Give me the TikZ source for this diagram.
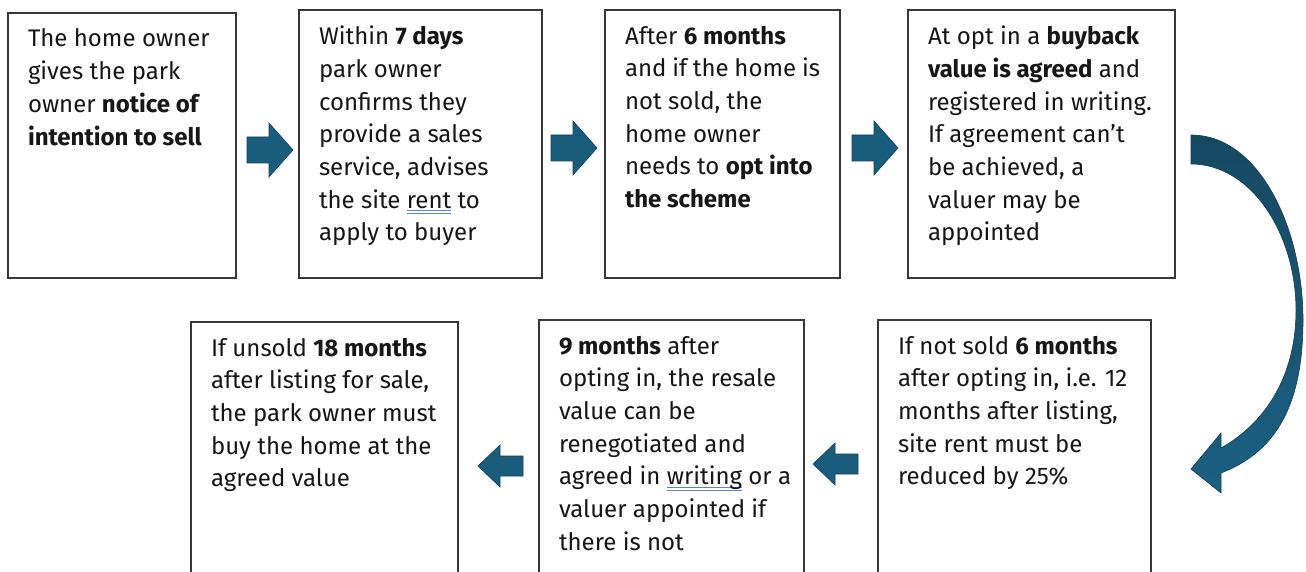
\documentclass[tikz,border=0pt]{standalone}
\usepackage{fontspec}
\setmainfont{Fira Sans}
\usetikzlibrary{calc}
\definecolor{arrowblue}{RGB}{26,92,124}
\definecolor{arrowtop}{RGB}{22,72,98}
\definecolor{arrowbot}{RGB}{27,96,130}
\definecolor{arrowedge}{RGB}{18,64,88}
\definecolor{boxline}{RGB}{55,55,55}
\definecolor{ulblue}{RGB}{90,130,220}
\definecolor{txt}{RGB}{22,22,22}
\newcommand\dblul[1]{\setbox0\hbox{#1}\rlap{\color{ulblue}\rule[-3pt]{\wd0}{0.9pt}}\rlap{\color{ulblue}\rule[-5.5pt]{\wd0}{0.9pt}}\box0\relax}
\newcommand\stepbody[3]{\begin{minipage}[t][#2][t]{#1}\raggedright\hfuzz=30pt\rule{0pt}{18pt}#3\end{minipage}}
\tikzset{
  stepbox/.style={draw=boxline, line width=1.2pt, anchor=north west, inner xsep=20pt, inner ysep=16pt, outer sep=0pt,
    text=txt, font=\fontsize{24}{32.7}\selectfont},
  blockarrow/.style={fill=arrowblue, draw=arrowedge, line width=0.6pt, line join=miter},
  rarr/.pic={\path[blockarrow] (-23,-13) -- (-1,-13) -- (-1,-27) -- (23,0) -- (-1,27) -- (-1,13) -- (-23,13) -- cycle;},
  larr/.pic={\path[blockarrow] (23,-10) -- (0,-10) -- (0,-21) -- (-22,0) -- (0,21) -- (0,10) -- (23,10) -- cycle;}
}
\begin{document}
\begin{tikzpicture}[x=1pt,y=-1pt]
\useasboundingbox (0,0) rectangle (1306,572);
\clip (0,0) rectangle (1306,572);
\fill[white] (0,0) rectangle (1306,572);

% top row
\node[stepbox] (b1) at (8,13) {\stepbody{188pt}{233pt}{The home owner\\
gives the park\\
owner \textbf{notice of}\\
\textbf{intention to sell}}};

\node[stepbox] (b2) at (299,10) {\stepbody{203pt}{236pt}{Within \textbf{7 days}\\
park owner\\
confirms they\\
provide a sales\\
service, advises\\
the site \dblul{rent} to\\
apply to buyer}};

\node[stepbox] (b3) at (605,10) {\stepbody{195pt}{236pt}{After \textbf{6 months}\\
and if the home is\\
not sold, the\\
home owner\\
needs to \textbf{opt into}\\
\textbf{the scheme}}};

\node[stepbox] (b4) at (908,10) {\stepbody{227pt}{236pt}{At opt in a \textbf{buyback}\\
\textbf{value is agreed} and\\
registered in writing.\\
If agreement can’t\\
be achieved, a\\
valuer may be\\
appointed}};

% bottom row
\node[stepbox] (b5) at (191,322) {\stepbody{227pt}{268pt}{If unsold \textbf{18 months}\\
after listing for sale,\\
the park owner must\\
buy the home at the\\
agreed value}};

\node[stepbox] (b6) at (539,320) {\stepbody{225pt}{268pt}{\textbf{9 months} after\\
opting in, the resale\\
value can be\\
renegotiated and\\
\mbox{agreed in \dblul{writing} or a}\\
valuer appointed if\\
there is not}};

\node[stepbox] (b7) at (878,320) {\stepbody{233pt}{268pt}{If not sold \textbf{6 months}\\
after opting in, i.e. 12\\
months after listing,\\
site rent must be\\
reduced by 25\%}};

% straight block arrows
\coordinate (a12) at (270,150);
\coordinate (a23) at (574,148);
\coordinate (a34) at (875,148);
\coordinate (a65) at (500,466);
\coordinate (a76) at (835,464);
\pic at (a12) {rarr};
\pic at (a23) {rarr};
\pic at (a34) {rarr};
\pic at (a65) {larr};
\pic at (a76) {larr};

% curved arrow from b4 down to b7
\coordinate (ctail) at (1191,135);
\path[top color=arrowtop, bottom color=arrowbot, draw=arrowedge, line width=0.6pt, line join=miter]
  (ctail) .. controls (1260,135) and (1303,230) .. (1303,320)
  .. controls (1303,405) and (1276,452) .. (1221,473)
  -- (1221,493) -- (1191,469) -- (1221,433) -- (1221,448)
  .. controls (1262,425) and (1296,380) .. (1296,310)
  .. controls (1296,235) and (1252,164) .. (1191,164) -- cycle;
\end{tikzpicture}
\end{document}
